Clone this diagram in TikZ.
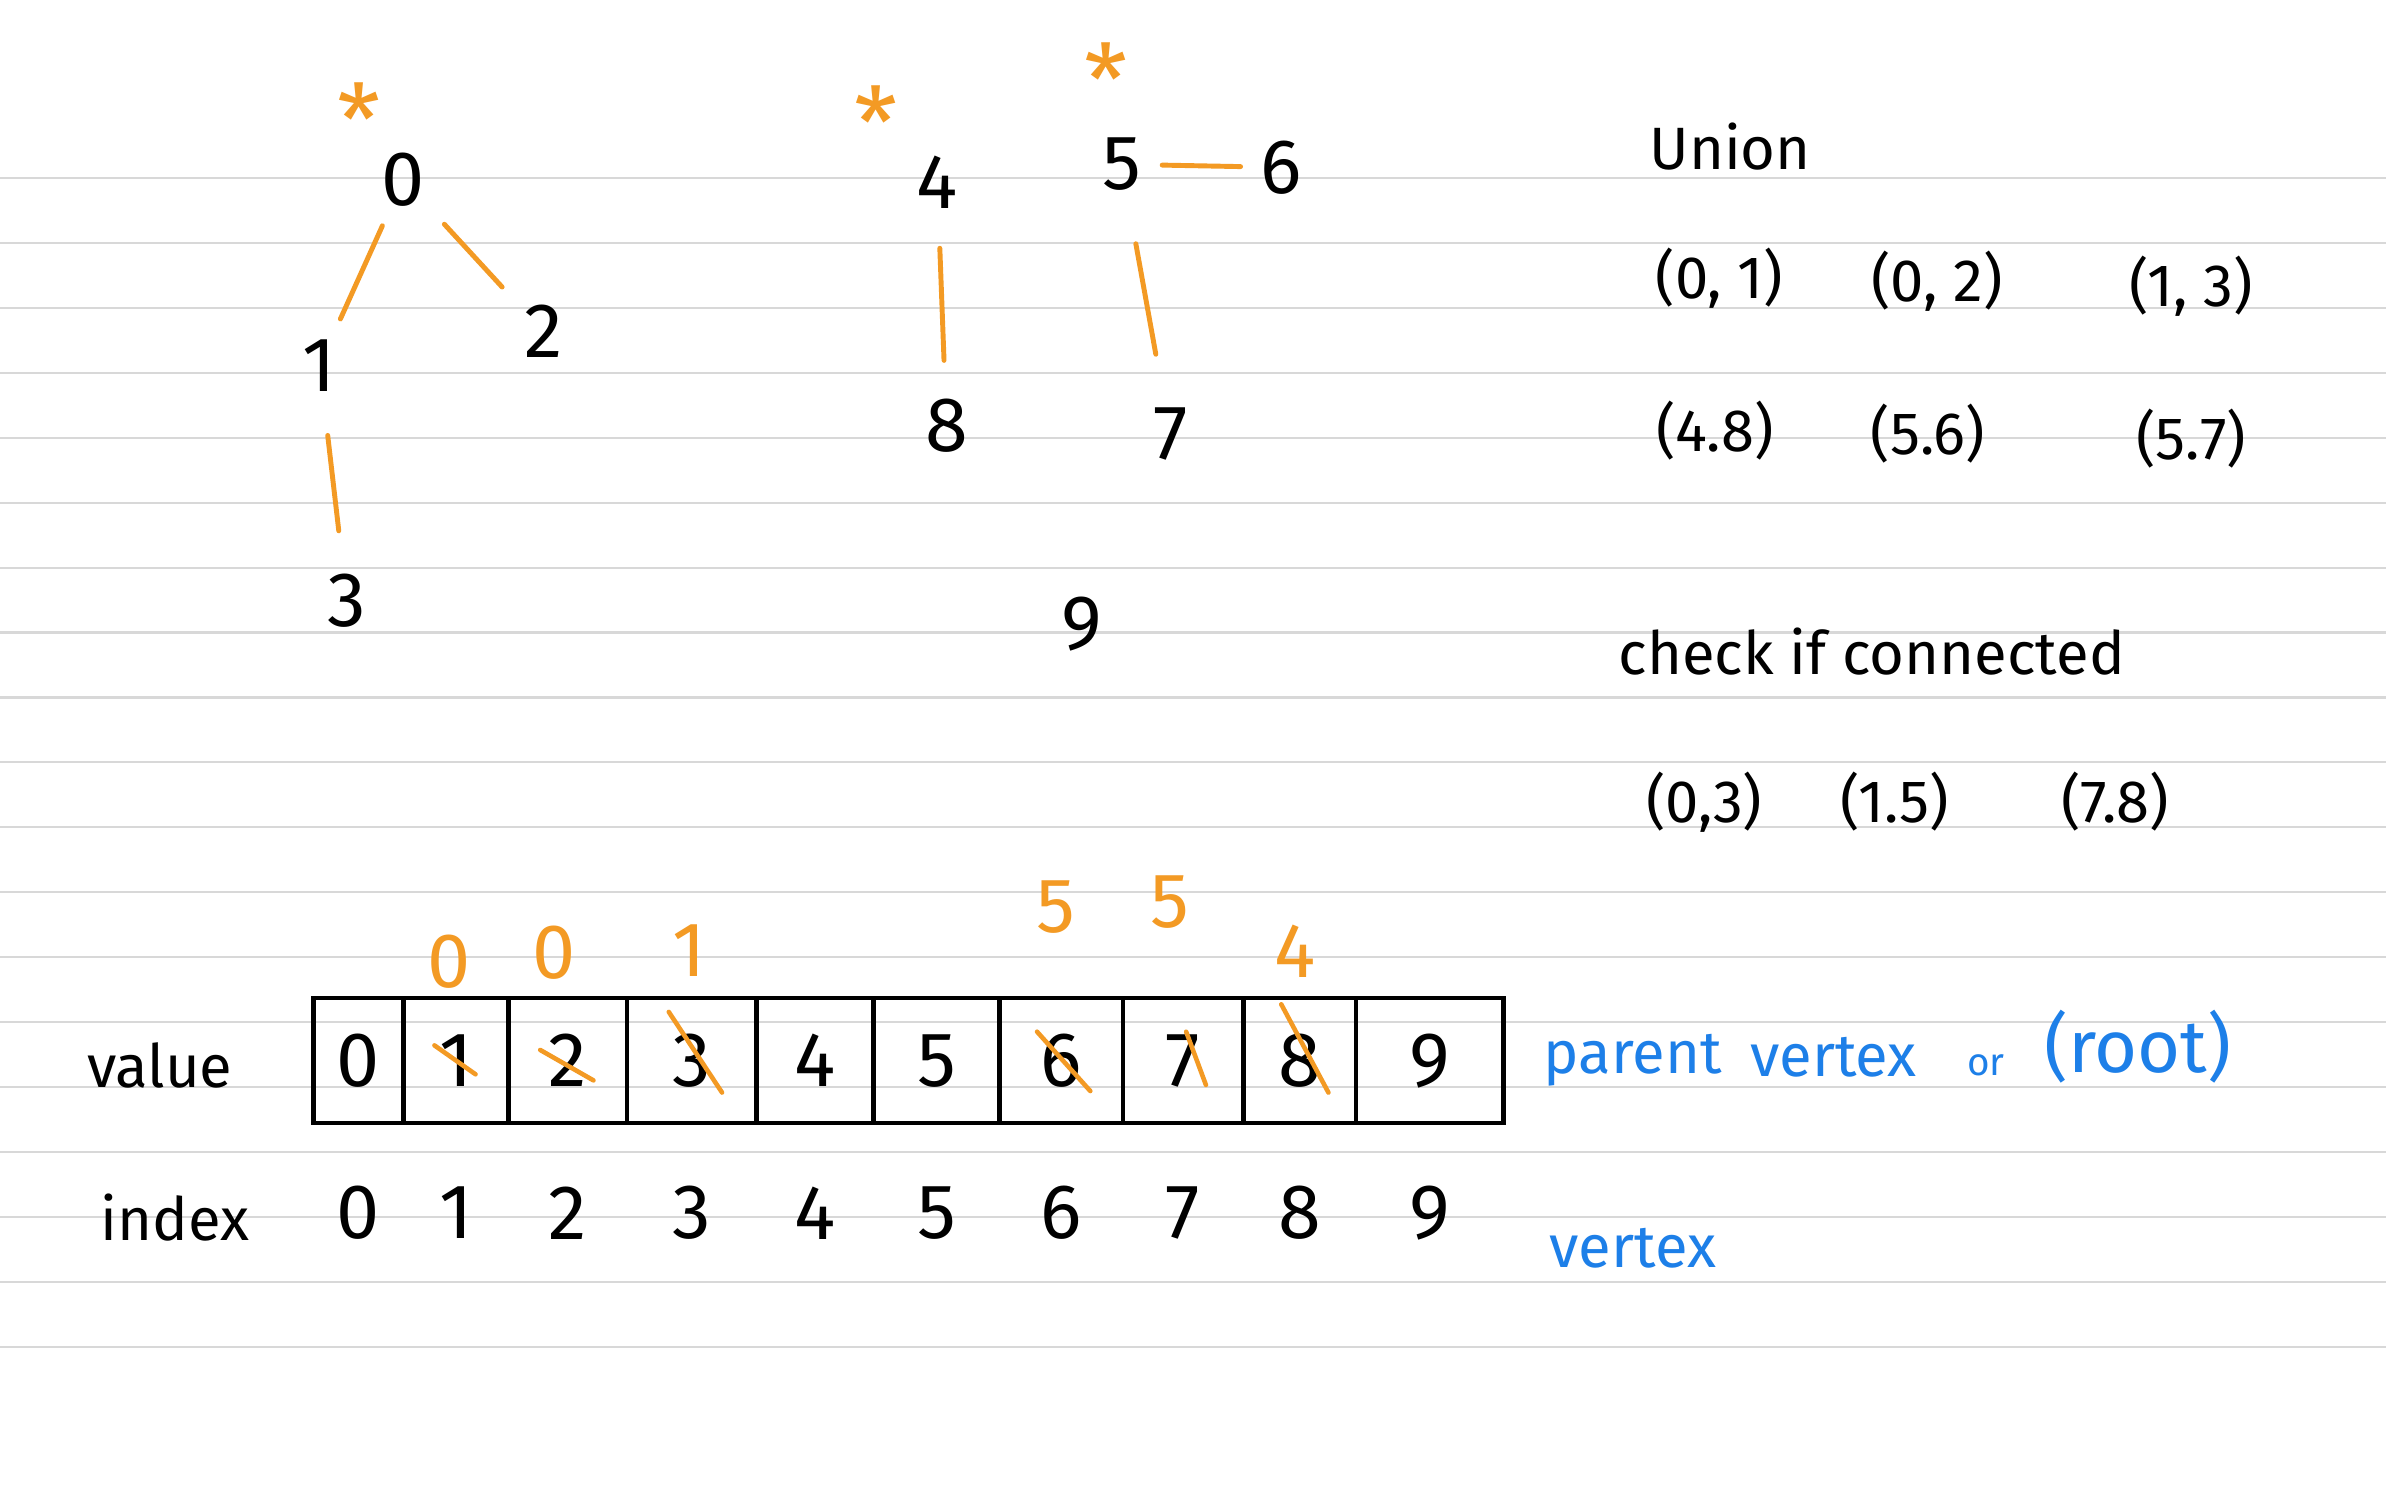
\documentclass[tikz,border=0pt]{standalone}
\usepackage{fontspec}
\setmainfont{Fira Sans}
\usepackage{xcolor}
\usetikzlibrary{positioning,calc}
\definecolor{inkorange}{HTML}{F39A24}
\definecolor{inkblue}{HTML}{1D7FE8}
\definecolor{ruleline}{HTML}{D8D8D8}

\begin{document}
\begin{tikzpicture}[
      x=0.015217cm, y=-0.015217cm,
      digit/.style={inner sep=1pt, font=\fontsize{22}{24}\selectfont},
      treenode/.style={digit, circle, minimum size=0.8cm},
      starmark/.style={text=inkorange, inner sep=0pt, font=\fontsize{28}{28}\selectfont},
      treeedge/.style={draw=inkorange, line width=1.4pt, line cap=round},
      cell/.style={draw, line width=1.3pt, inner sep=0pt, minimum height=1.248cm,
                   font=\fontsize{22}{24}\selectfont},
      strike/.style={draw=inkorange, line width=1.3pt, line cap=round},
      parentval/.style={digit, text=inkorange},
      handtext/.style={inner sep=1pt, font=\fontsize{17}{20}\selectfont},
      bluetext/.style={handtext, text=inkblue},
    ]
    % --- paper: white sheet with ruled lines ------------------------------------
    \fill[white] (0,0) rectangle (1568,980);
    \useasboundingbox (0,0) rectangle (1568,980);
    \foreach \i in {0,...,18}
      \draw[ruleline, line width=0.6pt] (0,{117+42.67*\i}) -- (1568,{117+42.67*\i});

    % --- first tree: root 0 --------------------------------------------------------
    \node[treenode] (n0) at (265,118) {0};
    \node[treenode] (n1) at (210,240) {1};
    \node[treenode] (n2) at (357,218) {2};
    \node[treenode] (n3) at (228,395) {3};
    \node[starmark] (s0) at (236,78) {*};
    \draw[treeedge, shorten <=0.1cm, shorten >=0.1cm] (n0) -- (n1);
    \draw[treeedge, shorten <=0.2cm, shorten >=0.2cm] (n0) -- (n2);
    \draw[treeedge, shorten <=0.3cm, shorten >=0.3cm] (n1) -- (n3);

    % --- second and third trees: roots 4 and 5, lone 9 -----------------------------
    \node[treenode] (n4) at (616,120) {4};
    \node[treenode] (n8) at (622,280) {8};
    \node[treenode] (n5) at (737,108) {5};
    \node[treenode] (n6) at (842,110) {6};
    \node[treenode] (n7) at (769,285) {7};
    \node[treenode] (n9) at (711,410) {9};
    \node[starmark] (s4) at (576,80) {*};
    \node[starmark] (s5) at (727,52) {*};
    \draw[treeedge, shorten <=0.25cm, shorten >=0.25cm] (n4) -- (n8);
    \draw[treeedge, shorten <=0.4cm, shorten >=0.4cm] (n5) -- (n7);
    \draw[treeedge] (n5) -- (n6);

    % --- operations -----------------------------------------------------------------
    \node[handtext] (union) at (1137,96) {Union};
    \node[handtext] (u01) at (1130,183) {(0, 1)};
    \node[handtext] (u02) at (1273,185) {(0, 2)};
    \node[handtext] (u13) at (1440,188) {(1, 3)};
    \node[handtext] (u48) at (1127,283) {(4.8)};
    \node[handtext] (u56) at (1267,285) {(5.6)};
    \node[handtext] (u57) at (1440,288) {(5.7)};
    \node[handtext] (check) at (1230,428) {check if connected};
    \node[handtext] (q03) at (1120,527) {(0,3)};
    \node[handtext] (q15) at (1245,527) {(1.5)};
    \node[handtext] (q78) at (1390,527) {(7.8)};

    % --- array: value row, parents written above -------------------------------------
    \foreach \l/\r [count=\k from 0] in {206/265, 265/334, 334/412, 412/497, 497/574,
                                         574/657, 657/738, 738/817, 817/891, 891/988}
      \node[cell, minimum width={(\r-\l)*0.015217cm}] (c\k) at ({(\l+\r)/2},697)
        {\pgfmathtruncatemacro\v{\k}\v};
    \foreach \k/\a/\b/\c/\d in {1/-14/-10/13/9, 2/-18/-7/17/13, 3/-15/-32/20/21,
                                6/-16/-19/19/20, 7/2/-19/15/16, 8/-12/-37/19/21}
      \draw[strike] ($(c\k)+(\a,\b)$) -- ($(c\k)+(\c,\d)$);
    \node[parentval] (p1) at (295,632) {0};
    \node[parentval] (p2) at (364,626) {0};
    \node[parentval] (p3) at (453,625) {1};
    \node[parentval] (p6) at (694,596) {5};
    \node[parentval] (p7) at (769,593) {5};
    \node[parentval] (p8) at (851,625) {4};
    \node[handtext] (valuelbl) at (105,700) {value};
    \node[bluetext] (parentlbl) at (1073,697) {parent};
    \node[bluetext] (vertexlbl) at (1205,695) {vertex};
    \node[bluetext, font=\fontsize{11}{12}\selectfont] (orlbl) at (1305,700) {or};
    \node[bluetext, font=\fontsize{21}{24}\selectfont] (rootlbl) at (1405,688) {(root)};

    % --- array: index row --------------------------------------------------------------
    \coordinate (irow) at (0,797);
    \foreach \k in {0,...,9}
      \node[digit] (i\k) at (c\k |- irow) {\k};
    \node[handtext] (indexlbl) at (115,800) {index};
    \node[bluetext] (vertexidx) at (1073,820) {vertex};
  \end{tikzpicture}
\end{document}
